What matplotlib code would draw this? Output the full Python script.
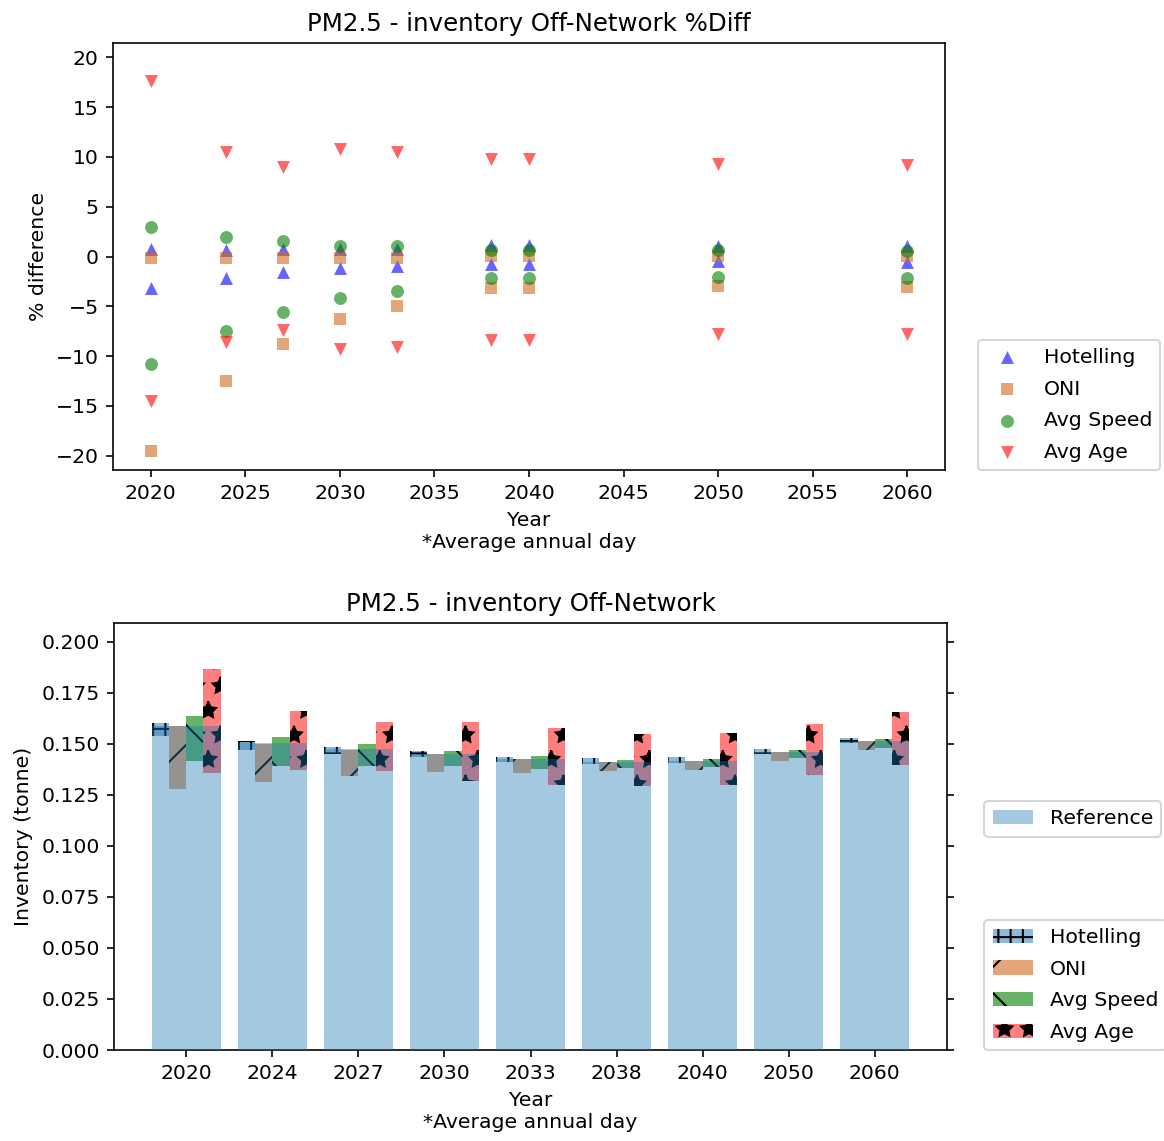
import matplotlib
matplotlib.use("Agg")
import matplotlib.pyplot as plt
import numpy as np

# Years and scenarios
years = [2020, 2024, 2027, 2030, 2033, 2038, 2040, 2050, 2060]
year_labels = ["2020", "2024", "2027", "2030", "2033", "2038", "2040", "2050", "2060"]
scenarios = ["Hotelling", "ONI", "Avg Speed", "Avg Age"]

# % difference against the reference inventory (upper / lower variant)
hotelling_hi = [0.77, 0.70, 0.77, 0.77, 0.77, 1.20, 1.20, 1.10, 1.10]
hotelling_lo = [-3.18, -2.17, -1.60, -1.16, -0.99, -0.72, -0.72, -0.49, -0.59]
oni_hi = [-0.14, -0.14, -0.14, -0.14, -0.14, 0.02, 0.02, 0.02, 0.02]
oni_lo = [-19.48, -12.46, -8.82, -6.32, -4.97, -3.18, -3.18, -3.01, -3.08]
speed_hi = [2.96, 1.95, 1.54, 1.10, 1.03, 0.63, 0.63, 0.63, 0.53]
speed_lo = [-10.77, -7.47, -5.55, -4.19, -3.42, -2.17, -2.17, -2.07, -2.17]
age_hi = [17.57, 10.49, 9.03, 10.82, 10.49, 9.74, 9.74, 9.30, 9.20]
age_lo = [-14.48, -8.58, -7.40, -9.25, -9.09, -8.34, -8.34, -7.80, -7.73]

# Reference PM2.5 off-network inventory (tonne, average annual day)
reference = [0.1590, 0.1503, 0.1475, 0.1452, 0.1427, 0.1413, 0.1418, 0.1460, 0.1515]

pct_hi = [hotelling_hi, oni_hi, speed_hi, age_hi]
pct_lo = [hotelling_lo, oni_lo, speed_lo, age_lo]

DPI = 147
W, H = 1164, 1141
plt.rcParams['hatch.color'] = 'black'
fig = plt.figure(figsize=(W / DPI, H / DPI), dpi=DPI)


def frac_box(left, top, right, bottom):
    return [left / W, 1 - bottom / H, (right - left) / W, (bottom - top) / H]


# ---- Top panel: % difference scatter ----
ax1 = fig.add_axes(frac_box(113, 43, 945, 470))
markers = ['^', 's', 'o', 'v']
scatter_colors = ['blue', 'chocolate', 'green', 'red']
for name, hi, lo, m, c in zip(scenarios, pct_hi, pct_lo, markers, scatter_colors):
    ax1.scatter(years + years, hi + lo, marker=m, color=c, alpha=0.6, s=40,
                linewidths=0, label=name)
lim = 1.1 * max(abs(v) for arr in pct_hi + pct_lo for v in arr)
ax1.set_ylim(-lim, lim)
ax1.set_yticks(np.arange(-20, 21, 5))
ax1.set_title("PM2.5 - inventory Off-Network %Diff")
ax1.set_ylabel("% difference")
ax1.set_xlabel("Year\n*Average annual day")
ax1.legend(loc='lower left', bbox_to_anchor=(1.04, 0), borderaxespad=0,
           labelspacing=0.62)

# ---- Bottom panel: inventory bars ----
ax2 = fig.add_axes(frac_box(114, 623, 947, 1050))
x = np.arange(len(years))
ref = np.array(reference)
offsets = [-0.3, -0.1, 0.1, 0.3]
bar_colors = ['tab:blue', 'chocolate', 'green', 'red']
bar_alphas = [0.5, 0.6, 0.6, 0.5]
hatches = ['++', '/', '\\', '*']
scen_handles = []
for name, hi, lo, off, c, a, h in zip(scenarios, pct_hi, pct_lo, offsets,
                                      bar_colors, bar_alphas, hatches):
    top = ref * (1 + np.array(hi) / 100)
    bot = ref * (1 + np.array(lo) / 100)
    bars = ax2.bar(x + off, top - bot, bottom=bot, width=0.2, color=c, alpha=a,
                   hatch=h, linewidth=0, label=name, zorder=2)
    scen_handles.append(bars)

ref_bars = ax2.bar(x, ref, width=0.8, color='tab:blue', alpha=0.4,
                   label='Reference', zorder=3)
ax2.set_ylim(0, 0.2093)
ax2.set_xticks(x)
ax2.set_xticklabels(year_labels)
ax2.tick_params(axis='y', right=True)
ax2.set_title("PM2.5 - inventory Off-Network")
ax2.set_ylabel("Inventory (tonne)")
ax2.set_xlabel("Year\n*Average annual day")

leg_ref = ax2.legend(handles=[ref_bars], loc='lower left',
                     bbox_to_anchor=(1.045, 0.5), borderaxespad=0)
ax2.add_artist(leg_ref)
ax2.legend(handles=scen_handles, loc='lower left',
           bbox_to_anchor=(1.045, 0), borderaxespad=0, labelspacing=0.62)

fig.savefig("out.png", dpi=DPI)
